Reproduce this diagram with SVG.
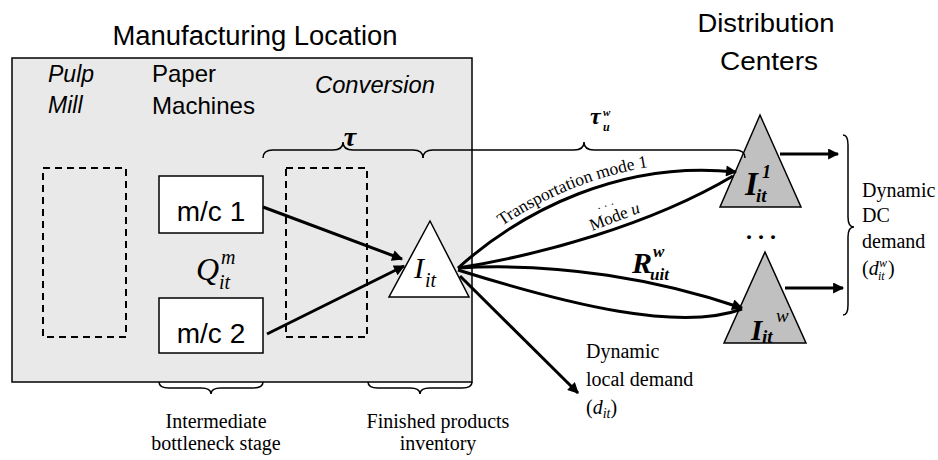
<svg xmlns="http://www.w3.org/2000/svg" width="938" height="460" viewBox="0 0 938 460">
<style>
.sans{font-family:"Liberation Sans",Arial,sans-serif;fill:#000}
.serif{font-family:"Liberation Serif","Times New Roman",serif;fill:#000}
.it{font-style:italic}
.b{font-weight:bold}
.box{fill:#fff;stroke:#000;stroke-width:1.5}
.dash{fill:none;stroke:#000;stroke-width:2;stroke-dasharray:7,5}
.flow{fill:none;stroke:#000;stroke-width:3}
.brace{fill:none;stroke:#000;stroke-width:1.5}
.dc{fill:#c0c0c0;stroke:#000;stroke-width:1.5}
</style>
<defs>
<marker id="ah" viewBox="0 0 10 10" refX="9" refY="5" markerUnits="userSpaceOnUse" markerWidth="15" markerHeight="11" orient="auto">
<path d="M0,0 L10,5 L0,10 z" fill="#000"/>
</marker>
<path id="tp1" d="M461,258 C523,202 622,153 737,164"/>
</defs>
<rect width="938" height="460" fill="#fff"/>

<g id="manufacturing-location">
<rect x="12" y="58" width="460" height="324" fill="#e9e9e9" stroke="#000" stroke-width="1.5"/>
<text class="sans" x="255" y="45" font-size="27" text-anchor="middle" textLength="285" lengthAdjust="spacingAndGlyphs">Manufacturing Location</text>
</g>

<g id="pulp-mill">
<text class="sans it" x="48" y="82" font-size="23">Pulp</text>
<text class="sans it" x="48" y="113" font-size="23">Mill</text>
<rect class="dash" x="43" y="168" width="83" height="169"/>
</g>

<g id="paper-machines">
<text class="sans" x="152" y="82" font-size="24">Paper</text>
<text class="sans" x="152" y="114" font-size="24" textLength="103" lengthAdjust="spacingAndGlyphs">Machines</text>
</g>

<g id="mc1">
<rect class="box" x="159" y="176" width="104" height="57"/>
<text class="sans" x="211" y="221" font-size="28" text-anchor="middle">m/c 1</text>
</g>

<g id="mc2">
<rect class="box" x="159" y="298" width="104" height="55"/>
<text class="sans" x="211" y="343" font-size="28" text-anchor="middle">m/c 2</text>
</g>

<g id="q-label">
<text class="serif it" x="196" y="280" font-size="32">Q</text>
<text class="serif it" x="221" y="264" font-size="20">m</text>
<text class="serif it" x="219" y="289" font-size="20">it</text>
</g>

<g id="conversion">
<text class="sans it" x="315" y="93" font-size="24" textLength="120" lengthAdjust="spacingAndGlyphs">Conversion</text>
<rect class="dash" x="286" y="168" width="81" height="169"/>
</g>

<g id="finished-inventory">
<path d="M430,221 L469,297 L389,297 Z" fill="#fff" stroke="#000" stroke-width="1.5"/>
<text class="serif it" x="414" y="278" font-size="30">I</text>
<text class="serif it" x="425" y="287" font-size="20">it</text>
</g>

<g id="dc-titles">
<text class="sans" x="766" y="32" font-size="26" text-anchor="middle" textLength="137" lengthAdjust="spacingAndGlyphs">Distribution</text>
<text class="sans" x="769" y="70" font-size="26" text-anchor="middle" textLength="98" lengthAdjust="spacingAndGlyphs">Centers</text>
</g>

<g id="dc1">
<path class="dc" d="M760,115 L801,207 L720,207 Z"/>
<text class="serif it b" x="745" y="195" font-size="33">I</text>
<text class="serif it b" x="762" y="178" font-size="18">1</text>
<text class="serif it b" x="756" y="202" font-size="19">it</text>
</g>

<g id="dcw">
<path class="dc" d="M765,252 L806,343 L724,343 Z"/>
<text class="serif it b" x="751" y="340" font-size="29">I</text>
<text class="serif it" x="776" y="322" font-size="19">w</text>
<text class="serif it b" x="762" y="343" font-size="19">it</text>
</g>

<g id="dc-dots">
<text class="serif b" x="761" y="239" font-size="24" text-anchor="middle">. . .</text>
</g>

<g id="connectors">
<path class="flow" d="M263,207 L402,259" marker-end="url(#ah)"/>
<path class="flow" d="M267,334 L404,266" marker-end="url(#ah)"/>
<path class="flow" d="M458,268 C523,210 622,160 736,172" marker-end="url(#ah)"/>
<path class="flow" d="M458,268 C540,255 650,225 733,176"/>
<path class="flow" d="M458,268 C560,262 660,280 742,308" marker-end="url(#ah)"/>
<path class="flow" d="M458,270 C570,305 680,332 742,309"/>
<path class="flow" d="M460,276 L578,393" marker-end="url(#ah)"/>
<path class="flow" stroke-width="2.5" d="M780,154 L838,154" marker-end="url(#ah)"/>
<path class="flow" stroke-width="2.5" d="M785,288 L843,288" marker-end="url(#ah)"/>
</g>

<g id="flow-labels">
<text class="serif" font-size="17.5"><textPath href="#tp1" startOffset="52">Transportation mode 1</textPath></text>
<text class="serif" x="607" y="210" font-size="12" text-anchor="middle" transform="rotate(-18 607 210)">· · ·</text>
<text class="serif" x="592" y="231" font-size="17" transform="rotate(-21 592 231)">Mode <tspan class="it">u</tspan></text>
<text class="serif it b" x="632" y="273" font-size="30">R</text>
<text class="serif it b" x="653" y="257" font-size="17">w</text>
<text class="serif it b" x="650" y="280" font-size="17">uit</text>
</g>

<g id="braces">
<path class="brace" d="M263,158 Q263,150 273,150 L333,150 Q343,150 343,142 Q343,150 353,150 L413,150 Q423,150 423,158"/>
<text class="serif it b" x="350" y="146" font-size="28" text-anchor="middle">τ</text>
<path class="brace" d="M423,158 Q423,150 433,150 L574,150 Q584,150 584,142 Q584,150 594,150 L735,150 Q745,150 745,158"/>
<text class="serif it b" x="590" y="124" font-size="24">τ</text>
<text class="serif it b" x="603" y="116" font-size="11">w</text>
<text class="serif it b" x="603" y="131" font-size="12">u</text>
<path class="brace" d="M159,382 Q159,388 169,388 L201,388 Q211,388 211,394 Q211,388 221,388 L253,388 Q263,388 263,382"/>
<path class="brace" d="M368,382 Q368,388 378,388 L410,388 Q420,388 420,394 Q420,388 430,388 L462,388 Q472,388 472,382"/>
<path class="brace" d="M843,135 Q848,135 848,145 L848,217 Q848,227 854,227 Q848,227 848,237 L848,305 Q848,315 843,315"/>
</g>

<g id="bottom-labels">
<text class="serif" x="216" y="428" font-size="20" text-anchor="middle">Intermediate</text>
<text class="serif" x="216" y="450" font-size="20" text-anchor="middle">bottleneck stage</text>
<text class="serif" x="438" y="428" font-size="20" text-anchor="middle">Finished products</text>
<text class="serif" x="438" y="450" font-size="20" text-anchor="middle">inventory</text>
</g>

<g id="local-demand">
<text class="serif" x="586" y="358" font-size="20">Dynamic</text>
<text class="serif" x="586" y="386" font-size="20">local demand</text>
<text class="serif" x="586" y="414" font-size="20">(<tspan class="it">d</tspan><tspan class="it" font-size="14" dy="4">it</tspan><tspan dy="-4">)</tspan></text>
</g>

<g id="dc-demand">
<text class="serif" x="862" y="197" font-size="20">Dynamic</text>
<text class="serif" x="862" y="222" font-size="20">DC</text>
<text class="serif" x="862" y="248" font-size="20">demand</text>
<text class="serif" x="862" y="275" font-size="20">(<tspan class="it">d</tspan></text>
<text class="serif it" x="879" y="267" font-size="12">w</text>
<text class="serif it" x="878" y="280" font-size="12">it</text>
<text class="serif" x="888" y="275" font-size="20">)</text>
</g>
</svg>
